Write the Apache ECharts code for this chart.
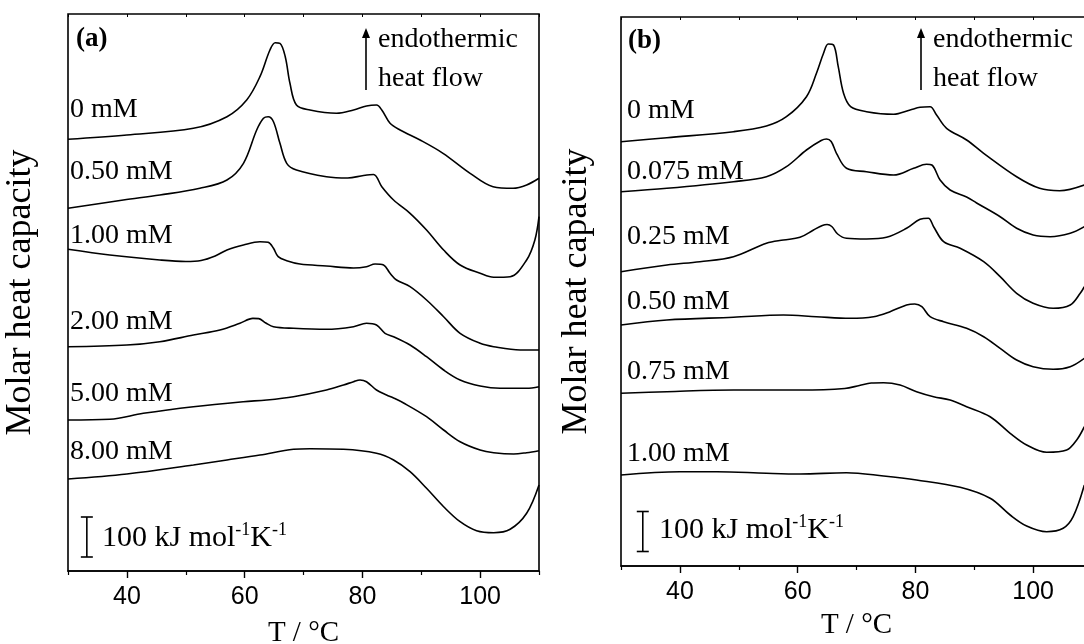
<!DOCTYPE html>
<html><head><meta charset="utf-8">
<script src="https://cdn.jsdelivr.net/npm/echarts@6/dist/echarts.min.js"></script>
<style>html,body{margin:0;padding:0;background:#fff}#c{width:1084px;height:644px}</style>
</head><body><div id="c"></div>
<script>
// ---- Data: [T (°C), offset molar heat capacity (a.u.; 40 a.u. = 100 kJ mol-1 K-1)] ----
// Panel (a)
const a_0mM = [[30,431.7],[40,436],[51.3,442.7],[57,454.3],[60.35,471],[62.6,494.3],[64.3,521],[65.2,528.3],[66.0,527.7],[66.9,514.3],[67.7,487.7],[68.8,466],[71.1,461],[75.6,457.7],[78.5,461],[80.7,465],[82.4,466],[83.3,461],[84.7,447.7],[86.4,441],[89.8,431],[93.7,417.7],[98.3,397.7],[102.2,384.3],[105.6,382.7],[107.9,386],[110,392.7]];
const a_050mM = [[30,362.7],[39.4,371],[45.6,376],[52.4,382.7],[57,391],[59.8,407.7],[62.05,441],[63.2,452.7],[64.0,454.3],[64.9,449.3],[66.0,427.7],[67.15,407.7],[68.8,401],[73.9,394.3],[77.5,393],[80.2,395.5],[81.9,396.5],[83.3,384.3],[85.3,371],[88.1,357.7],[90.9,341],[93.8,321],[96.6,306],[100,297.7],[102.3,293.7],[105.1,294.3],[107.9,311],[109.3,331],[110,354.3]];
const a_100mM = [[30,321.7],[37.1,316],[45.6,311],[50.0,309.5],[52.6,310.5],[55.0,315],[57.0,321],[59.8,326],[62.6,329.3],[64.0,328.7],[64.9,322.7],[65.7,314.3],[67.15,310.3],[69.4,307],[73.9,305],[78.5,303],[80.7,304.3],[82.15,307],[83.6,306],[84.7,297.7],[85.8,291],[88.1,284.3],[90.9,271],[93.8,254.3],[96.6,237.7],[100,227.7],[102.3,224.3],[106.8,221],[110,221]];
const a_200mM = [[30,224.3],[40,226],[45.6,229.3],[51.3,236],[55.8,241],[59.2,247.7],[61.4,252.6],[62.4,252.4],[63.6,248],[64.9,244.3],[68.3,242.7],[73.9,241.7],[78.5,244.3],[80.7,247.7],[82.4,246],[83.85,237.7],[85.3,234.3],[88.1,226],[90.9,214.3],[93.8,201],[96.6,191],[100,185],[103.4,182.7],[107.9,182.7],[110,184.3]];
const a_500mM = [[30,151],[37.1,151.7],[42.8,157.7],[51.3,164.3],[59.8,169.3],[63.75,171],[68.3,174.3],[73.9,181],[76.8,186],[78.5,189.3],[79.6,191],[80.7,189.3],[82.4,181],[84.1,176],[85.3,173],[87,168],[90.9,154.3],[93.8,141],[96.6,129.3],[100,121],[102.3,118.3],[105.7,117],[107.9,118.3],[110,120.3]];
const a_800mM = [[30,92],[40,97],[51.3,106],[57,111],[62.6,116],[68.3,121.7],[71.1,122.3],[76.8,121.7],[82.4,117.7],[85.3,111],[88.1,99.3],[90.9,82.7],[93.8,64.3],[96.6,49.3],[99.4,40.3],[102.3,38.3],[105.1,41.7],[107.9,57.7],[110,86]];
// Panel (b)
const b_0mM = [[30,424.3],[37.8,428.3],[49.1,434.3],[54.7,440],[58.1,449.3],[61.5,469.3],[63.2,492.7],[64.4,512.7],[65.2,522],[66.1,521],[66.9,499.3],[67.8,472.7],[69.0,459.3],[71.7,454.3],[76.3,451.7],[79.1,456],[80.8,458.7],[82.5,459.3],[83.6,451],[85.3,437.7],[88.7,426],[91.6,412.7],[97.2,389.3],[101.1,377.7],[104.5,375.3],[108.7,381]];
const b_0075mM = [[30,374.3],[37.8,377.7],[49.1,384.3],[54.7,389.3],[58.1,399.3],[61.5,416],[64.0,425.5],[64.9,427],[65.7,424.5],[66.6,412.7],[68.3,397.7],[71.7,394.3],[76.3,391],[79.7,397.7],[81.9,401.7],[82.8,401],[84.2,386],[85.9,376],[88.7,369],[90.4,363],[94.4,349.3],[97.2,337.7],[100,331],[102.9,329.3],[106.3,332.7],[108.7,339.3]];
const b_025mM = [[30,294.3],[37.8,301],[43.4,304.3],[49.1,309.3],[54.7,322.7],[57.6,326],[60.4,328.7],[62.7,336],[64.2,340.5],[65.0,341.5],[65.8,339.5],[66.8,332],[68.3,327.7],[71.7,327],[75.1,328.7],[78.5,337.7],[80.8,346.7],[82.2,347.7],[83.1,339.3],[84.8,324.3],[87.6,317.7],[91.6,304.3],[94.4,289.3],[97.2,272.7],[100,262.7],[103.4,257.7],[106.3,261],[108,272.7],[108.7,279.3]];
const b_050mM = [[30,241],[37.8,246],[49.1,248.7],[57.6,251],[63.2,249.3],[68.9,247.7],[72.9,249.3],[75.7,254.3],[78.5,261],[79.9,262],[81.1,259.3],[82.5,249.3],[84.8,244.3],[88.7,237.7],[91.6,229.3],[94.4,217.7],[97.2,206],[100,199.3],[103.4,196.7],[106.3,199.3],[108.7,207.7]];
const b_075mM = [[30,172.7],[37.8,174.3],[49.1,176],[60.4,176],[68.0,177.5],[70.5,180.5],[72.5,183],[74.6,183.3],[77.4,181],[80.2,174.3],[83.1,169.3],[85.9,166],[88.7,159.3],[92.7,149.3],[96.1,132.7],[98.9,121],[102.3,113.7],[105.7,116],[107.4,126],[108.7,139.3]];
const b_100mM = [[30,91],[40,94.3],[46.3,94.3],[54.7,92.7],[60.4,92],[68.3,93.3],[74.6,90],[80.2,86],[87.6,78.7],[92.7,67.7],[96.1,51],[98.9,40],[102.3,34.3],[105.1,37.7],[106.8,49.3],[108.7,81]];

const labelsA = ['0 mM','0.50 mM','1.00 mM','2.00 mM','5.00 mM','8.00 mM'];
const labelsB = ['0 mM','0.075 mM','0.25 mM','0.50 mM','0.75 mM','1.00 mM'];
const curvesA = [a_0mM,a_050mM,a_100mM,a_200mM,a_500mM,a_800mM];
const curvesB = [b_0mM,b_0075mM,b_025mM,b_050mM,b_075mM,b_100mM];
const majorTicks = [40,60,80,100];
const minorTicks = [30,50,70,90,110];
const xRange = [30,110];
const scaleBarAU = 40;           // a.u. corresponding to 100 kJ mol-1 K-1
const scaleBarText = '100 kJ mol';
const xTitle = 'T / °C';
const yTitle = 'Molar heat capacity';

// ---- Layout (pixels) ----
const SERIF = '"Liberation Serif","Times New Roman",serif';
const SANS = '"Liberation Sans",Arial,sans-serif';
const panels = [
  {grid:{left:68,top:14,width:471,height:557}, ymax:557, tag:'(a)', labels:labelsA, curves:curvesA,
   labelX:70, labelY:[110,172,236,322,394,452], arrowX:366, tagY:39, tagX:76,
   barT:33.2, barBase:14, barTextX:102, barTextY:538, nameGapX:48, nameGapY:29, labelMargin:14},
  {grid:{left:621,top:17,width:471,height:549}, ymax:549, tag:'(b)', labels:labelsB, curves:curvesB,
   labelX:627, labelY:[111,172,237,302,372,454], arrowX:921, tagY:41, tagX:628,
   barT:33.7, barBase:14.5, barTextX:659, barTextY:530, nameGapX:45, nameGapY:26, labelMargin:14}
];

const xAxes = [], yAxes = [], series = [], graphics = [];
panels.forEach((p, gi) => {
  const base = xAxes.length;
  xAxes.push({
    gridIndex: gi, type:'value', min:xRange[0], max:xRange[1], position:'bottom',
    axisLine:{show:true, lineStyle:{color:'#000', width:1.6}},
    axisTick:{show:true, inside:false, length:7, customValues:majorTicks, lineStyle:{color:'#000', width:1.4}},
    axisLabel:{show:true, customValues:majorTicks, margin:p.labelMargin, color:'#000', fontFamily:SANS, fontSize:25},
    splitLine:{show:false},
    name:xTitle, nameLocation:'middle', nameGap:p.nameGapX,
    nameTextStyle:{color:'#000', fontFamily:SERIF, fontSize:29}
  });
  xAxes.push({
    gridIndex: gi, type:'value', min:xRange[0], max:xRange[1], position:'bottom', offset:0,
    axisLine:{show:false}, axisLabel:{show:false}, splitLine:{show:false},
    axisTick:{show:true, inside:false, length:4, customValues:minorTicks, lineStyle:{color:'#000', width:1.2}}
  });
  xAxes.push({
    gridIndex: gi, type:'value', min:xRange[0], max:xRange[1], position:'top', interval:10,
    axisLine:{show:false}, axisLabel:{show:false}, splitLine:{show:false},
    axisTick:{show:true, inside:true, length:3, lineStyle:{color:'#000', width:1}}
  });
  yAxes.push({
    gridIndex: gi, type:'value', min:0, max:p.ymax,
    axisLine:{show:false}, axisTick:{show:false}, axisLabel:{show:false}, splitLine:{show:false},
    name:yTitle, nameLocation:'middle', nameRotate:90, nameGap:p.nameGapY,
    nameTextStyle:{color:'#000', fontFamily:SERIF, fontSize:36}
  });
  p.curves.forEach((c, i) => {
    series.push({
      type:'line', name:(gi?'(b) ':'(a) ')+p.labels[i], xAxisIndex:base, yAxisIndex:gi,
      data:c, showSymbol:false, symbol:'none', smooth:0.35,
      lineStyle:{color:'#000', width:1.6}, silent:true, clip:true
    });
  });
  // scale bar drawn through the axes' scales
  series.push({
    type:'custom', xAxisIndex:base, yAxisIndex:gi, silent:true, clip:false,
    data:[[p.barT, p.barBase, p.barBase + scaleBarAU]],
    renderItem:(params, api) => {
      const a = api.coord([api.value(0), api.value(1)]);
      const b = api.coord([api.value(0), api.value(2)]);
      const w = 6, st = {stroke:'#000', lineWidth:1.6};
      return {type:'group', children:[
        {type:'line', shape:{x1:a[0],y1:a[1],x2:b[0],y2:b[1]}, style:st},
        {type:'line', shape:{x1:a[0]-w,y1:a[1],x2:a[0]+w,y2:a[1]}, style:st},
        {type:'line', shape:{x1:b[0]-w,y1:b[1],x2:b[0]+w,y2:b[1]}, style:st}
      ]};
    }
  });
  // concentration labels
  p.labels.forEach((t, i) => {
    graphics.push({type:'text', x:p.labelX, y:p.labelY[i], silent:true,
      style:{text:t, fill:'#000', font:'28px '+SERIF, textAlign:'left', textVerticalAlign:'middle'}});
  });
  // panel tag
  graphics.push({type:'text', x:p.tagX, y:p.tagY, silent:true,
    style:{text:p.tag, fill:'#000', font:'bold 27px '+SERIF, textAlign:'left', textVerticalAlign:'middle'}});
  // endothermic arrow
  graphics.push({type:'line', silent:true, shape:{x1:p.arrowX, y1:90, x2:p.arrowX, y2:34}, style:{stroke:'#000', lineWidth:1.6}});
  graphics.push({type:'polygon', silent:true, shape:{points:[[p.arrowX,28],[p.arrowX-4,38],[p.arrowX+4,38]]}, style:{fill:'#000'}});
  graphics.push({type:'text', x:p.arrowX+12, y:40, silent:true,
    style:{text:'endothermic', fill:'#000', font:'28px '+SERIF, textAlign:'left', textVerticalAlign:'middle'}});
  graphics.push({type:'text', x:p.arrowX+12, y:79, silent:true,
    style:{text:'heat flow', fill:'#000', font:'28px '+SERIF, textAlign:'left', textVerticalAlign:'middle'}});
  // scale bar text with superscripts
  graphics.push({type:'text', x:p.barTextX, y:p.barTextY, silent:true,
    style:{text:'{n|'+scaleBarText+'}{s|-1}{n|K}{s|-1}', textAlign:'left', textVerticalAlign:'middle',
      rich:{n:{fontFamily:SERIF, fontSize:30, color:'#000', lineHeight:34},
            s:{fontFamily:SERIF, fontSize:18, color:'#000', verticalAlign:'top', lineHeight:34}}}});
});

const chart = echarts.init(document.getElementById('c'), null, {renderer:'canvas'});
chart.setOption({
  backgroundColor:'#fff',
  animation:false,
  grid: panels.map(p => Object.assign({show:true, borderColor:'#000', borderWidth:1.6, backgroundColor:'transparent',
    containLabel:false, outerBoundsMode:'none'}, p.grid)),
  xAxis: xAxes,
  yAxis: yAxes,
  series: series,
  graphic: graphics
});
</script></body></html>
